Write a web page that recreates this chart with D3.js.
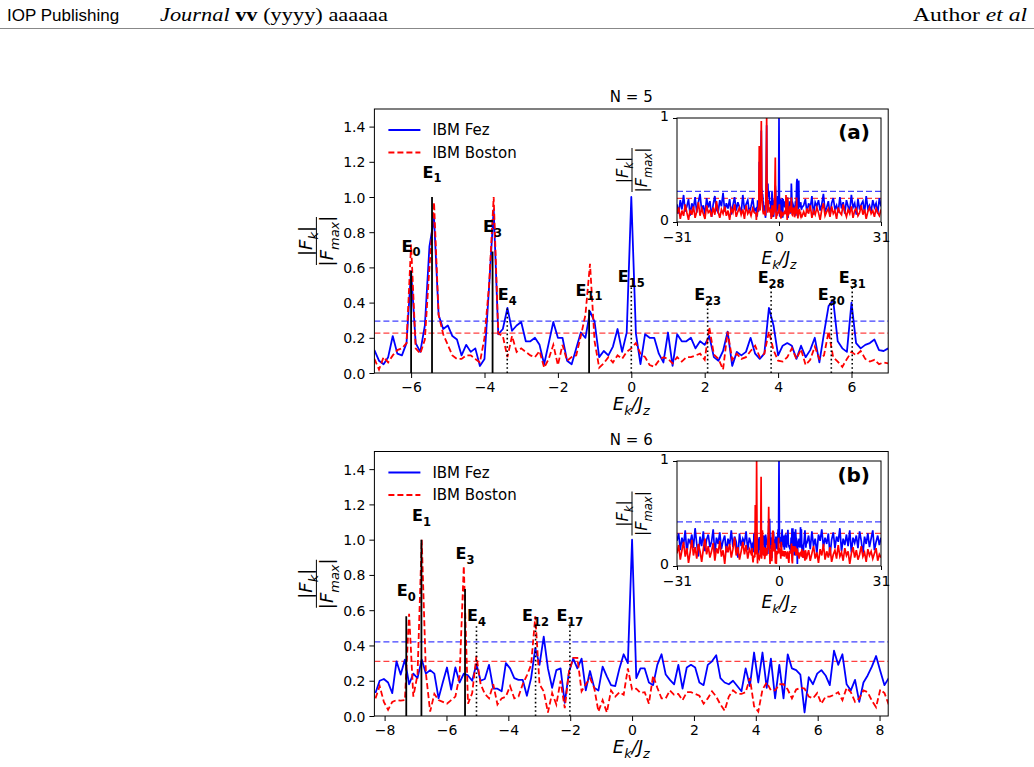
<!DOCTYPE html>
<html><head><meta charset="utf-8">
<script src="https://cdn.jsdelivr.net/npm/d3@7"></script>
<style>body{margin:0;background:#fff;} svg{display:block;} text{fill:#000;}</style>
</head><body><svg id="c" width="1034" height="767" font-family="'DejaVu Sans',sans-serif"></svg>
<script>
// ---------------- DATA ----------------
// Panel (a): N = 5, energy grid step 0.125 centred at 0 (index 56 -> 0)
const stepA = 0.125, midA = 56;
const fezA = [0.13,0.07,0.05,0.09,0.21,0.11,0.10,0.17,0.58,0.17,
 0.12,0.27,0.72,0.88,0.33,0.25,0.27,0.21,0.19,0.10,
 0.16,0.12,0.14,0.04,0.08,0.49,0.93,0.22,0.25,0.37,
 0.24,0.27,0.29,0.18,0.18,0.20,0.16,0.05,0.17,0.29,
 0.20,0.20,0.07,0.05,0.14,0.23,0.20,0.35,0.29,0.09,
 0.125,0.10,0.15,0.25,0.12,0.23,1.0,0.225,0.05,0.22,
 0.20,0.20,0.11,0.06,0.23,0.04,0.22,0.18,0.18,0.20,
 0.14,0.18,0.16,0.21,0.09,0.07,0.125,0.235,0.04,0.12,
 0.10,0.12,0.20,0.11,0.08,0.11,0.37,0.27,0.10,0.155,
 0.17,0.155,0.08,0.155,0.09,0.13,0.20,0.06,0.225,0.38,
 0.415,0.18,0.14,0.12,0.40,0.17,0.14,0.16,0.17,0.19,
 0.13,0.125,0.14];
const bostonA = [0.08,0.02,0.09,0.06,0.10,0.13,0.14,0.17,0.73,0.14,
 0.11,0.19,0.60,0.97,0.33,0.22,0.16,0.10,0.08,0.08,
 0.10,0.10,0.08,0.06,0.20,0.50,1.0,0.225,0.21,0.09,
 0.21,0.12,0.14,0.12,0.10,0.09,0.125,0.03,0.08,0.16,
 0.045,0.16,0.07,0.09,0.10,0.21,0.33,0.62,0.18,0.03,
 0.055,0.09,0.06,0.10,0.08,0.12,0.14,0.17,0.11,0.09,
 0.045,0.035,0.07,0.09,0.08,0.055,0.09,0.065,0.09,0.09,
 0.10,0.11,0.075,0.26,0.105,0.08,0.02,0.235,0.075,0.11,
 0.08,0.09,0.125,0.155,0.09,0.11,0.235,0.13,0.07,0.065,
 0.09,0.14,0.08,0.135,0.045,0.075,0.15,0.08,0.10,0.235,
 0.09,0.065,0.035,0.08,0.12,0.10,0.125,0.08,0.065,0.075,
 0.05,0.06,0.055];
// inset (a) outer regions, step 0.5 : left -31..-7.5, right 7.5..31
const fezAOutL = [0.17,0.08,0.21,0.12,0.26,0.10,0.15,0.22,0.06,0.18,0.13,0.24,0.09,0.19,0.27,0.11,0.16,0.07,0.23,0.14,0.20,0.05,0.17,0.25,0.12,0.09,0.21,0.15,0.28,0.10,0.18,0.13,0.22,0.07,0.16,0.24,0.11,0.19,0.14,0.08,0.26,0.12,0.17,0.21,0.09,0.15,0.23,0.11];
const fezAOutR = [0.16,0.22,0.09,0.18,0.13,0.25,0.07,0.19,0.15,0.21,0.11,0.17,0.27,0.10,0.14,0.20,0.06,0.18,0.23,0.12,0.16,0.09,0.24,0.13,0.19,0.08,0.21,0.15,0.11,0.26,0.14,0.18,0.07,0.22,0.12,0.17,0.20,0.09,0.25,0.13,0.16,0.10,0.21,0.14,0.18,0.08,0.23,0.15];
const bostonAOutL = [0.08,0.14,0.03,0.11,0.06,0.17,0.09,0.02,0.12,0.07,0.15,0.04,0.10,0.19,0.06,0.13,0.08,0.03,0.16,0.09,0.11,0.05,0.14,0.07,0.20,0.10,0.04,0.12,0.08,0.15,0.06,0.11,0.02,0.13,0.09,0.17,0.05,0.10,0.14,0.07,0.12,0.03,0.16,0.08,0.11,0.06,0.13,0.09];
const bostonAOutR = [0.10,0.05,0.13,0.08,0.16,0.04,0.11,0.07,0.14,0.09,0.02,0.12,0.18,0.06,0.10,0.13,0.05,0.15,0.08,0.11,0.03,0.14,0.09,0.07,0.17,0.10,0.05,0.12,0.08,0.15,0.04,0.11,0.13,0.06,0.09,0.16,0.07,0.12,0.03,0.10,0.14,0.08,0.11,0.05,0.13,0.09,0.06,0.12];
const threshA = [0.295, 0.227]; // Fez, Boston
const eigNamesA = ["0","1","3","4","11","15","23","28","30","31"];
const eigXA = [-6.0,-5.43,-3.78,-3.38,-1.15,0.0,2.08,3.81,5.45,6.02];
const eigHA = [0.58,1.0,0.69,0.37,0.36,0.50,0.41,0.50,0.41,0.50];
const eigSolidA = [1,1,1,0,1,0,0,0,0,0];
const eigLabelYA = [0.69,1.11,0.80,0.415,0.44,0.517,0.415,0.51,0.415,0.51];
const xTicksA = [-6,-4,-2,0,2,4,6];

// Panel (b): N = 6, grid step 0.136 centred at 0 (index 61 -> 0)
const stepB = 0.136, midB = 61;
const fezB = [0.13,0.20,0.21,0.19,0.13,0.31,0.235,0.32,0.18,0.24,
 0.215,0.32,0.24,0.26,0.24,0.10,0.19,0.275,0.15,0.275,
 0.19,0.24,0.23,0.20,0.295,0.20,0.21,0.29,0.155,0.155,
 0.14,0.30,0.27,0.215,0.205,0.205,0.115,0.215,0.385,0.29,
 0.45,0.27,0.16,0.26,0.27,0.075,0.25,0.325,0.27,0.325,
 0.145,0.255,0.16,0.145,0.28,0.225,0.175,0.17,0.27,0.35,
 0.30,1.0,0.215,0.27,0.27,0.19,0.175,0.29,0.35,0.235,
 0.205,0.18,0.29,0.155,0.275,0.29,0.275,0.19,0.175,0.29,
 0.31,0.345,0.215,0.19,0.18,0.20,0.17,0.14,0.27,0.17,
 0.36,0.19,0.36,0.16,0.325,0.10,0.29,0.10,0.35,0.27,
 0.26,0.235,0.02,0.22,0.18,0.24,0.26,0.23,0.175,0.37,
 0.29,0.35,0.18,0.145,0.205,0.08,0.19,0.23,0.28,0.34,
 0.255,0.175,0.215];
const bostonB = [0.10,0.17,0.08,0.035,0.08,0.09,0.087,0.09,0.58,0.11,
 0.235,1.0,0.24,0.025,0.125,0.09,0.08,0.07,0.09,0.11,
 0.23,0.85,0.07,0.13,0.34,0.18,0.125,0.10,0.18,0.065,
 0.10,0.11,0.17,0.10,0.11,0.18,0.23,0.29,0.565,0.18,
 0.14,0.02,0.13,0.065,0.20,0.045,0.25,0.33,0.33,0.14,
 0.18,0.215,0.16,0.025,0.09,0.02,0.145,0.11,0.135,0.12,
 0.27,0.15,0.155,0.13,0.135,0.07,0.23,0.16,0.10,0.10,
 0.145,0.12,0.125,0.09,0.135,0.135,0.125,0.115,0.07,0.10,
 0.14,0.11,0.065,0.03,0.11,0.145,0.125,0.125,0.135,0.215,
 0.055,0.025,0.15,0.19,0.145,0.145,0.18,0.18,0.15,0.10,
 0.15,0.16,0.155,0.11,0.10,0.13,0.07,0.11,0.11,0.12,
 0.135,0.09,0.16,0.135,0.08,0.10,0.145,0.135,0.087,0.05,
 0.15,0.13,0.065];
// inset (b) outer regions, step 0.5 : left -31..-8.5, right 8.5..31
const fezBOutL = [0.24,0.31,0.15,0.27,0.20,0.34,0.12,0.26,0.22,0.30,0.17,0.36,0.21,0.09,0.28,0.19,0.33,0.14,0.25,0.30,0.18,0.23,0.35,0.11,0.27,0.21,0.32,0.16,0.24,0.29,0.13,0.26,0.20,0.34,0.18,0.28,0.23,0.08,0.31,0.19,0.26,0.22,0.33,0.15,0.27,0.21];
const fezBOutR = [0.22,0.29,0.16,0.33,0.19,0.26,0.12,0.30,0.24,0.35,0.18,0.27,0.21,0.31,0.10,0.25,0.32,0.17,0.28,0.23,0.36,0.14,0.26,0.20,0.30,0.19,0.34,0.13,0.27,0.22,0.29,0.17,0.33,0.24,0.11,0.28,0.21,0.31,0.18,0.26,0.34,0.15,0.23,0.29,0.20,0.27];
const bostonBOutL = [0.12,0.20,0.06,0.15,0.23,0.09,0.17,0.03,0.13,0.25,0.10,0.18,0.07,0.21,0.14,0.04,0.16,0.26,0.11,0.19,0.08,0.14,0.22,0.05,0.17,0.12,0.24,0.09,0.15,0.02,0.19,0.13,0.21,0.08,0.16,0.27,0.10,0.18,0.06,0.14,0.23,0.11,0.20,0.07,0.16,0.12];
const bostonBOutR = [0.09,0.15,0.05,0.12,0.19,0.07,0.13,0.03,0.16,0.10,0.21,0.06,0.14,0.08,0.18,0.04,0.11,0.15,0.07,0.20,0.09,0.13,0.05,0.17,0.10,0.14,0.02,0.12,0.18,0.08,0.15,0.06,0.11,0.19,0.09,0.13,0.04,0.16,0.10,0.14,0.07,0.12,0.17,0.05,0.11,0.08];
const threshB = [0.42, 0.31];
const eigNamesB = ["0","1","3","4","12","17"];
const eigXB = [-7.30,-6.81,-5.40,-5.03,-3.12,-2.01];
const eigHB = [0.565,1.0,0.72,0.52,0.52,0.53];
const eigSolidB = [1,1,1,0,0,0];
const eigLabelYB = [0.68,1.105,0.89,0.54,0.54,0.54];
const xTicksB = [-8,-6,-4,-2,0,2,4,6,8];

const yTicks = [0,0.2,0.4,0.6,0.8,1.0,1.2,1.4];
const insetXTicks = [-31,0,31];
const insetYTicks = [0,1];
const seriesNames = ["IBM Fez","IBM Boston"];
const titles = ["N = 5","N = 6"];
const panelTags = ["(a)","(b)"];

// ---------------- DRAW ----------------
const svg = d3.select("#c");
const BLUE = "#0000ff", RED = "#ff0000";
const SANS = "'DejaVu Sans',sans-serif";
const SERIF = "'Liberation Serif','DejaVu Serif',serif";

// header
svg.append("text").attr("x",7).attr("y",21).style("font-family","'Liberation Sans Narrow','Liberation Sans',Arial,sans-serif")
  .attr("font-size",17).text("IOP Publishing");
const jt = svg.append("text").attr("x",160).attr("y",21).style("font-family",SERIF).attr("font-size",18)
  .attr("textLength",228).attr("lengthAdjust","spacingAndGlyphs");
jt.append("tspan").attr("font-style","italic").text("Journal");
jt.append("tspan").attr("font-weight","bold").text(" vv");
jt.append("tspan").text(" (yyyy) aaaaaa");
const at = svg.append("text").attr("x",913).attr("y",21).style("font-family",SERIF).attr("font-size",18)
  .attr("textLength",114).attr("lengthAdjust","spacingAndGlyphs");
at.append("tspan").text("Author ");
at.append("tspan").attr("font-style","italic").text("et al");
svg.append("line").attr("x1",0).attr("x2",1034).attr("y1",28.5).attr("y2",28.5).attr("stroke","#888").attr("stroke-width",1);

function mathText(g, x, y, parts, size, anchor, extra) {
  const t = g.append("text").attr("x",x).attr("y",y).attr("font-size",size).attr("text-anchor",anchor||"start").style("font-family",SANS);
  if (extra) extra(t);
  let shifted = false;
  parts.forEach(([s, sub, ital]) => {
    const ts = t.append("tspan").text(s);
    if (sub) { ts.attr("font-size",0.72*size); if (!shifted) { ts.attr("dy",0.3*size); shifted = true; } }
    else if (shifted) { ts.attr("dy",-0.3*size); shifted = false; }
    if (ital) ts.attr("font-style","italic");
  });
  return t;
}

function fraction(g, cx, cy, size, halfLen, numOff, denOff) {
  const f = g.append("g").attr("transform",`translate(${cx},${cy}) rotate(-90)`);
  mathText(f, 0, -numOff, [["|",0,0],["F",0,1],["k",1,1],["|",0,0]], size, "middle");
  f.append("line").attr("x1",-halfLen).attr("x2",halfLen).attr("y1",0).attr("y2",0).attr("stroke","#000").attr("stroke-width",1);
  mathText(f, 0, denOff, [["|",0,0],["F",0,1],["max",1,1],["|",0,0]], size, "middle");
}

function styleAxis(a, size) {
  a.selectAll("text").attr("font-size",size).style("font-family",SANS).attr("fill","#000");
  a.selectAll("line").attr("stroke","#000");
  a.select(".domain").remove();
}

function panel(o) {
  const g = svg.append("g");
  const x = d3.scaleLinear().domain(o.xDomain).range([o.left, o.right]);
  const y = d3.scaleLinear().domain([0,1.5]).range([o.bottom, o.top]);
  const cid = "clip" + o.id;
  svg.append("clipPath").attr("id",cid).append("rect")
    .attr("x",o.left).attr("y",o.top).attr("width",o.right-o.left).attr("height",o.bottom-o.top);
  const plot = g.append("g").attr("clip-path",`url(#${cid})`);
  // thresholds
  [[o.thresh[0],BLUE],[o.thresh[1],RED]].forEach(([v,c]) => {
    plot.append("line").attr("x1",o.left).attr("x2",o.right).attr("y1",y(v)).attr("y2",y(v))
      .attr("stroke",c).attr("stroke-opacity",0.75).attr("stroke-width",1.2).attr("stroke-dasharray","6,3");
  });
  const line = d3.line().x((d,i) => x((i - o.mid) * o.step)).y(d => y(d));
  plot.append("path").attr("d",line(o.fez)).attr("fill","none").attr("stroke",BLUE).attr("stroke-width",1.8).attr("stroke-linejoin","round");
  plot.append("path").attr("d",line(o.boston)).attr("fill","none").attr("stroke",RED).attr("stroke-width",1.8).attr("stroke-dasharray","6,3");
  // eigen lines
  o.eigX.forEach((ex,i) => {
    const solid = o.eigSolid[i];
    plot.append("line").attr("x1",x(ex)).attr("x2",x(ex)).attr("y1",y(0)).attr("y2",y(o.eigH[i]))
      .attr("stroke","#000").attr("stroke-width",solid?1.8:1.6).attr("stroke-dasharray",solid?null:"1.6,2.6");
  });
  o.eigNames.forEach((n,i) => {
    mathText(g, x(o.eigX[i]), y(o.eigLabelY[i]), [["E",0,0],[n,1,0]], 16, "middle", t => t.attr("font-weight","bold"));
  });
  // axes
  const ax = g.append("g").attr("transform",`translate(0,${o.bottom})`)
    .call(d3.axisBottom(x).tickValues(o.xTicks).tickSize(5).tickPadding(4).tickFormat(d3.format("d")));
  styleAxis(ax, 14);
  const ay = g.append("g").attr("transform",`translate(${o.left},0)`)
    .call(d3.axisLeft(y).tickValues(yTicks).tickSize(5).tickPadding(4).tickFormat(d3.format(".1f")));
  styleAxis(ay, 14);
  ay.selectAll("text").attr("dy","0.36em");
  g.append("rect").attr("x",o.left).attr("y",o.top).attr("width",o.right-o.left).attr("height",o.bottom-o.top)
    .attr("fill","none").attr("stroke","#000").attr("stroke-width",1);
  // title
  g.append("text").attr("x",(o.left+o.right)/2).attr("y",o.top-7).attr("text-anchor","middle").attr("font-size",15).style("font-family",SANS).text(o.title);
  // ylabel
  fraction(g, o.left-58, (o.top+o.bottom)/2, 18, 24, 4, 17);
  // xlabel
  mathText(g, (o.left+o.right)/2, o.bottom+37, [["E",0,1],["k",1,1],["/J",0,1],["z",1,1]], 18, "middle");
  // legend
  const lx = o.left + 14;
  [[0,BLUE,null],[1,RED,"6,3"]].forEach(([k,c,da]) => {
    const ly = o.top + 21 + k*22.5;
    g.append("line").attr("x1",lx).attr("x2",lx+32).attr("y1",ly).attr("y2",ly).attr("stroke",c).attr("stroke-width",1.8).attr("stroke-dasharray",da);
    g.append("text").attr("x",lx+44).attr("y",ly+5).attr("font-size",15).style("font-family",SANS).text(seriesNames[k]);
  });

  // ---------- inset ----------
  const ix = d3.scaleLinear().domain([-31,31]).range([o.ileft, o.iright]);
  const iy = d3.scaleLinear().domain([0,1]).range([o.ibottom, o.itop]);
  const ig = g.append("g");
  ig.append("rect").attr("x",o.ileft).attr("y",o.itop).attr("width",o.iright-o.ileft).attr("height",o.ibottom-o.itop).attr("fill","#fff");
  const icid = "iclip" + o.id;
  svg.append("clipPath").attr("id",icid).append("rect")
    .attr("x",o.ileft).attr("y",o.itop).attr("width",o.iright-o.ileft).attr("height",o.ibottom-o.itop);
  const ip = ig.append("g").attr("clip-path",`url(#${icid})`);
  [[o.thresh[0],BLUE],[o.thresh[1],RED]].forEach(([v,c]) => {
    ip.append("line").attr("x1",o.ileft).attr("x2",o.iright).attr("y1",iy(v)).attr("y2",iy(v))
      .attr("stroke",c).attr("stroke-opacity",0.75).attr("stroke-width",1.2).attr("stroke-dasharray","6,3");
  });
  function build(outL, main, outR) {
    const pts = [];
    outL.forEach((v,j) => pts.push([o.outStartL + 0.5*j, v]));
    main.forEach((v,i) => pts.push([(i - o.mid)*o.step, v]));
    outR.forEach((v,j) => pts.push([o.outStartR + 0.5*j, v]));
    return pts;
  }
  const iline = d3.line().x(d => ix(d[0])).y(d => iy(d[1]));
  ip.append("path").attr("d",iline(build(o.fezOutL,o.fez,o.fezOutR))).attr("fill","none").attr("stroke",BLUE).attr("stroke-width",1.7);
  ip.append("path").attr("d",iline(build(o.bosOutL,o.boston,o.bosOutR))).attr("fill","none").attr("stroke",RED).attr("stroke-width",1.7);
  const iax = ig.append("g").attr("transform",`translate(0,${o.ibottom})`)
    .call(d3.axisBottom(ix).tickValues(insetXTicks).tickSize(4).tickPadding(6).tickFormat(d3.format("d")));
  styleAxis(iax, 14);
  const iay = ig.append("g").attr("transform",`translate(${o.ileft},0)`)
    .call(d3.axisLeft(iy).tickValues(insetYTicks).tickSize(4).tickPadding(4).tickFormat(d3.format("d")));
  styleAxis(iay, 14);
  iay.selectAll("text").attr("dy","0.2em");
  ig.append("rect").attr("x",o.ileft).attr("y",o.itop).attr("width",o.iright-o.ileft).attr("height",o.ibottom-o.itop)
    .attr("fill","none").attr("stroke","#000").attr("stroke-width",1);
  ig.append("text").attr("x",o.iright-11).attr("y",o.itop+21).attr("text-anchor","end").attr("font-size",20).attr("font-weight","bold").style("font-family",SANS).text(o.tag);
  fraction(ig, o.ileft-45, (o.itop+o.ibottom)/2, 16, 22, 4, 15);
  mathText(ig, (o.ileft+o.iright)/2, o.ibottom+42, [["E",0,1],["k",1,1],["/J",0,1],["z",1,1]], 17, "middle");
}

panel({id:"a", left:374.4, right:888.2, top:109, bottom:373, xDomain:[-7,7], xTicks:xTicksA,
  step:stepA, mid:midA, fez:fezA, boston:bostonA, thresh:threshA,
  eigNames:eigNamesA, eigX:eigXA, eigH:eigHA, eigSolid:eigSolidA, eigLabelY:eigLabelYA,
  title:titles[0], tag:panelTags[0],
  ileft:677, iright:881, itop:118, ibottom:222,
  fezOutL:fezAOutL, fezOutR:fezAOutR, bosOutL:bostonAOutL, bosOutR:bostonAOutR, outStartL:-31, outStartR:7.5});

panel({id:"b", left:374.4, right:888.2, top:451.5, bottom:716, xDomain:[-8.33,8.28], xTicks:xTicksB,
  step:stepB, mid:midB, fez:fezB, boston:bostonB, thresh:threshB,
  eigNames:eigNamesB, eigX:eigXB, eigH:eigHB, eigSolid:eigSolidB, eigLabelY:eigLabelYB,
  title:titles[1], tag:panelTags[1],
  ileft:677, iright:881, itop:461, ibottom:566,
  fezOutL:fezBOutL, fezOutR:fezBOutR, bosOutL:bostonBOutL, bosOutR:bostonBOutR, outStartL:-31, outStartR:8.5});
</script></body></html>
